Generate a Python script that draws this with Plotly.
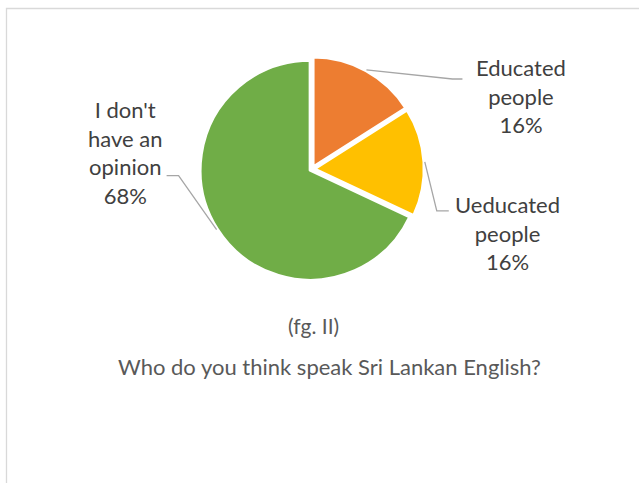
import math
import plotly.graph_objects as go

labels = ["Educated people", "Ueducated people", "I don't have an opinion"]
values = [16, 16, 68]
label_text = ["Educated<br>people<br>16%", "Ueducated<br>people<br>16%", "I don't<br>have an<br>opinion<br>68%"]
colors = ["#ED7D31", "#FFC000", "#70AD47"]
caption = "(fg. II)"
title = "Who do you think speak Sri Lankan English?"

W, H = 639, 483
cx, cy, r = 312, 169, 110
pull = 0.02
R = r * (1 + pull)

def px(x):
    return x / W

def py(y):
    return 1 - y / H

fig = go.Figure(go.Pie(
    labels=labels, values=values, sort=False, direction="clockwise", rotation=0,
    marker=dict(colors=colors, line=dict(color="white", width=3)),
    pull=[pull] * 3, textinfo="none", hoverinfo="label+percent", showlegend=False,
    domain=dict(x=[px(cx - R), px(cx + R)], y=[py(cy + R), py(cy - R)]),
))

# label layout: (edge offset, elbow dx, elbow dy, horizontal dx, text center x, text center y)
label_layout = [
    (3, 86, 9, 10, 521, 96),
    (3, 12, 49, 12, 507, 233),
    (3, -38, -54, -12, 125, 152),
]

total = sum(values)
start = 0.0
shapes = []
annotations = []
for i, v in enumerate(values):
    mid = (start + v / 2) / total * 2 * math.pi
    start += v
    off, edx, edy, hdx, tx, ty = label_layout[i]
    ex = cx + (r + off) * math.sin(mid)
    ey = cy - (r + off) * math.cos(mid)
    x1, y1 = ex + edx, ey + edy
    x2 = x1 + hdx
    shapes.append(dict(type="path", xref="paper", yref="paper",
                       path=f"M {px(ex)} {py(ey)} L {px(x1)} {py(y1)} L {px(x2)} {py(y1)}",
                       line=dict(color="#A6A6A6", width=1.3)))
    annotations.append(dict(text=label_text[i], x=px(tx), y=py(ty), xref="paper", yref="paper",
                            showarrow=False, xanchor="center", yanchor="middle", align="center",
                            font=dict(family="Lato", size=22, color="#404040")))

annotations.append(dict(text=caption, x=px(313), y=py(325), xref="paper", yref="paper",
                        showarrow=False, xanchor="center", yanchor="middle",
                        font=dict(family="Lato", size=21, color="#595959")))
annotations.append(dict(text=title, x=px(329.5), y=py(366), xref="paper", yref="paper",
                        showarrow=False, xanchor="center", yanchor="middle",
                        font=dict(family="Lato", size=22, color="#595959")))

shapes.append(dict(type="rect", xref="paper", yref="paper",
                   x0=px(6.5), y0=-0.1, x1=1.1, y1=py(8.5),
                   line=dict(color="#D9D9D9", width=1.3)))

fig.update_layout(width=W, height=H, margin=dict(l=0, r=0, t=0, b=0),
                  paper_bgcolor="white", plot_bgcolor="white",
                  shapes=shapes, annotations=annotations)
fig.write_html("out.html")
